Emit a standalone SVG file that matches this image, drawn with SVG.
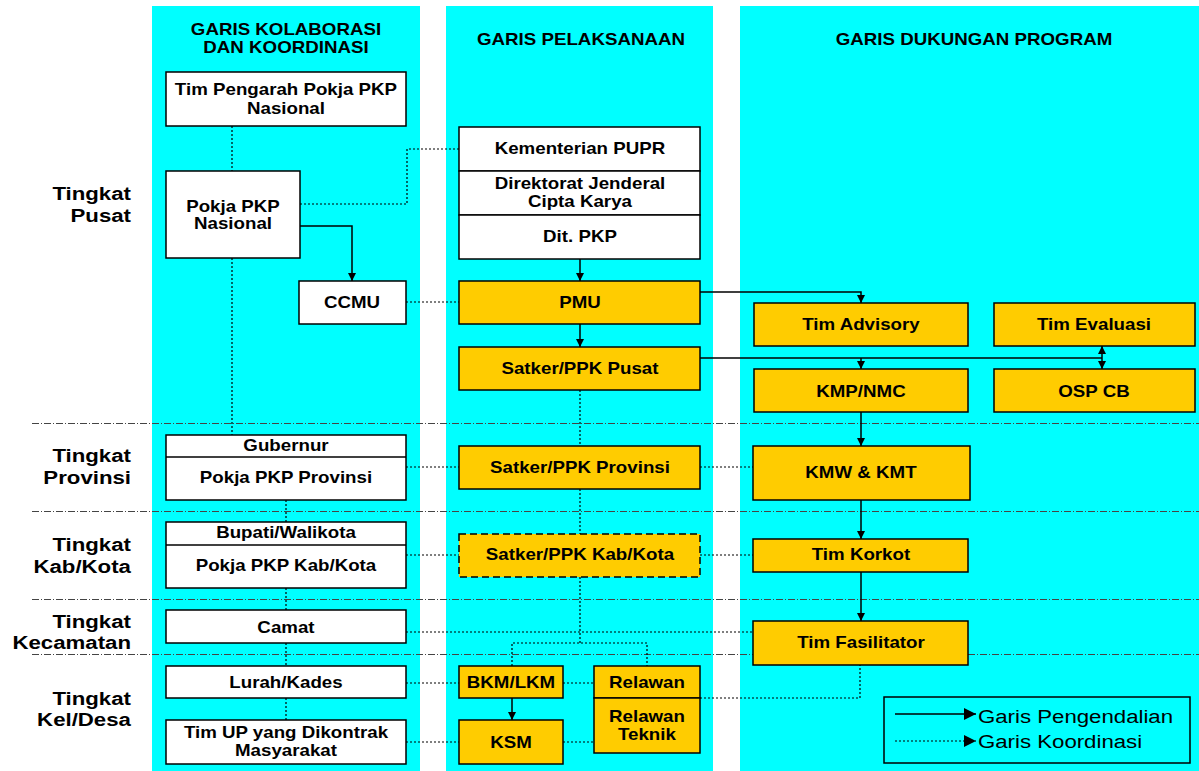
<svg xmlns="http://www.w3.org/2000/svg" width="1199" height="771" viewBox="0 0 1199 771">
<defs>
<style>
.c{fill:#00FFFF}
.w{fill:#fff;stroke:#000;stroke-width:1.5}
.g{fill:#FFCC00;stroke:#000;stroke-width:1.5}
.gd{fill:#FFCC00;stroke:#000;stroke-width:1.5;stroke-dasharray:7 4}
.t{font-family:"Liberation Sans",Arial,sans-serif;font-weight:bold;font-size:16px;text-anchor:middle;fill:#000;transform-box:fill-box;transform-origin:center;transform:scaleX(1.17)}
.l{font-size:19px;text-anchor:end;transform-origin:right center}
.lg{font-weight:normal;font-size:19px;text-anchor:start;transform-origin:left center}
.s{stroke:#000;stroke-width:1.5;fill:none}
.d{stroke:#000;stroke-width:1.2;stroke-dasharray:2 2;fill:none}
.sep{stroke:#444;stroke-width:1;stroke-dasharray:7 2 1 2;fill:none}
</style>
<marker id="a" viewBox="0 0 8 8" refX="8" refY="4" markerWidth="8" markerHeight="8" markerUnits="userSpaceOnUse" orient="auto-start-reverse"><path d="M0,0 L8,4 L0,8 z" fill="#000"/></marker>
<marker id="al" viewBox="0 0 12 12" refX="12" refY="6" markerWidth="12" markerHeight="12" markerUnits="userSpaceOnUse" orient="auto"><path d="M0,0 L12,6 L0,12 z" fill="#000"/></marker>
</defs>
<rect width="1199" height="771" fill="#fff"/>
<g id="columns">
<rect class="c" x="152" y="6" width="268" height="765"/>
<rect class="c" x="446" y="6" width="267" height="765"/>
<rect class="c" x="740" y="6" width="459" height="765"/>
<text class="t" x="286" y="35">GARIS KOLABORASI</text>
<text class="t" x="286" y="53">DAN KOORDINASI</text>
<text class="t" x="581" y="45">GARIS PELAKSANAAN</text>
<text class="t" x="974" y="45">GARIS DUKUNGAN PROGRAM</text>
</g>
<g id="separators">
<path class="sep" d="M32,423.5 H1199 M32,511.5 H1199 M32,599.5 H1199 M32,654.5 H1199"/>
</g>
<g id="levels">
<text class="t l" x="131" y="200">Tingkat</text>
<text class="t l" x="131" y="222">Pusat</text>
<text class="t l" x="131" y="462">Tingkat</text>
<text class="t l" x="131" y="484">Provinsi</text>
<text class="t l" x="131" y="551">Tingkat</text>
<text class="t l" x="131" y="573">Kab/Kota</text>
<text class="t l" x="131" y="628">Tingkat</text>
<text class="t l" x="131" y="649">Kecamatan</text>
<text class="t l" x="131" y="705">Tingkat</text>
<text class="t l" x="131" y="726">Kel/Desa</text>
</g>
<g id="connectors">
<path class="d" d="M232,126 V171 M232,258 V435 M286,500 V522 M286,588 V610 M286,643 V666 M286,698 V720"/>
<path class="d" d="M300,204 H407 V149 H459"/>
<path class="d" d="M406,302 H459"/>
<path class="d" d="M580,390 V446 M580,489 V534 M580,577 V643 M512,666 V643 H647 V666"/>
<path class="d" d="M406,467 H459 M700,467 H753 M406,555 H459 M700,555 H753 M406,632 H753"/>
<path class="d" d="M406,683 H459 M563,683 H594 M406,742 H459 M563,742 H594"/>
<path class="d" d="M700,698 H860 V665"/>
<path class="s" d="M300,226 H352 V281" marker-end="url(#a)"/>
<path class="s" d="M580,259 V281" marker-end="url(#a)"/>
<path class="s" d="M580,324 V347" marker-end="url(#a)"/>
<path class="s" d="M700,292 H861 V303" marker-end="url(#a)"/>
<path class="s" d="M700,358 H1102"/>
<path class="s" d="M861,358 V369" marker-end="url(#a)"/>
<path class="s" d="M1102,346 V369" marker-start="url(#a)" marker-end="url(#a)"/>
<path class="s" d="M861,412 V446" marker-end="url(#a)"/>
<path class="s" d="M861,500 V539" marker-end="url(#a)"/>
<path class="s" d="M861,572 V621" marker-end="url(#a)"/>
<path class="s" d="M512,698 V720" marker-end="url(#a)"/>
</g>
<g id="n-tim-pengarah"><rect class="w" x="166" y="72" width="240" height="54"/><text class="t" x="286" y="95">Tim Pengarah Pokja PKP</text><text class="t" x="286" y="114">Nasional</text></g>
<g id="n-pokja-nasional"><rect class="w" x="166" y="171" width="134" height="87"/><text class="t" x="233" y="212">Pokja PKP</text><text class="t" x="233" y="229">Nasional</text></g>
<g id="n-ccmu"><rect class="w" x="299" y="281" width="107" height="43"/><text class="t" x="352" y="308">CCMU</text></g>
<g id="n-gubernur"><rect class="w" x="166" y="435" width="240" height="65"/><line x1="166" y1="457" x2="406" y2="457" stroke="#000" stroke-width="1.5"/><text class="t" x="286" y="451">Gubernur</text><text class="t" x="286" y="483">Pokja PKP Provinsi</text></g>
<g id="n-bupati"><rect class="w" x="166" y="522" width="240" height="66"/><line x1="166" y1="545" x2="406" y2="545" stroke="#000" stroke-width="1.5"/><text class="t" x="286" y="538">Bupati/Walikota</text><text class="t" x="286" y="571">Pokja PKP Kab/Kota</text></g>
<g id="n-camat"><rect class="w" x="166" y="610" width="240" height="33"/><text class="t" x="286" y="633">Camat</text></g>
<g id="n-lurah"><rect class="w" x="166" y="666" width="240" height="32"/><text class="t" x="286" y="688">Lurah/Kades</text></g>
<g id="n-tim-up"><rect class="w" x="166" y="720" width="240" height="44"/><text class="t" x="286" y="738">Tim UP yang Dikontrak</text><text class="t" x="286" y="756">Masyarakat</text></g>
<g id="n-kementerian"><rect class="w" x="459" y="127" width="241" height="44"/><text class="t" x="580" y="154">Kementerian PUPR</text></g>
<g id="n-ditjen"><rect class="w" x="459" y="171" width="241" height="44"/><text class="t" x="580" y="189">Direktorat Jenderal</text><text class="t" x="580" y="207">Cipta Karya</text></g>
<g id="n-ditpkp"><rect class="w" x="459" y="215" width="241" height="44"/><text class="t" x="580" y="242">Dit. PKP</text></g>
<g id="n-pmu"><rect class="g" x="459" y="281" width="241" height="43"/><text class="t" x="580" y="308">PMU</text></g>
<g id="n-satker-pusat"><rect class="g" x="459" y="347" width="241" height="43"/><text class="t" x="580" y="374">Satker/PPK Pusat</text></g>
<g id="n-satker-prov"><rect class="g" x="459" y="446" width="241" height="43"/><text class="t" x="580" y="473">Satker/PPK Provinsi</text></g>
<g id="n-satker-kab"><rect class="gd" x="459" y="534" width="241" height="43"/><text class="t" x="580" y="560">Satker/PPK Kab/Kota</text></g>
<g id="n-bkm"><rect class="g" x="459" y="666" width="104" height="32"/><text class="t" x="511" y="688">BKM/LKM</text></g>
<g id="n-ksm"><rect class="g" x="459" y="720" width="104" height="44"/><text class="t" x="511" y="748">KSM</text></g>
<g id="n-relawan"><rect class="g" x="594" y="666" width="106" height="32"/><text class="t" x="647" y="688">Relawan</text></g>
<g id="n-relawan-teknik"><rect class="g" x="594" y="698" width="106" height="55"/><text class="t" x="647" y="722">Relawan</text><text class="t" x="647" y="740">Teknik</text></g>
<g id="n-tim-advisory"><rect class="g" x="754" y="303" width="214" height="43"/><text class="t" x="861" y="330">Tim Advisory</text></g>
<g id="n-tim-evaluasi"><rect class="g" x="994" y="303" width="201" height="43"/><text class="t" x="1094" y="330">Tim Evaluasi</text></g>
<g id="n-kmp"><rect class="g" x="754" y="369" width="214" height="43"/><text class="t" x="861" y="397">KMP/NMC</text></g>
<g id="n-osp"><rect class="g" x="994" y="369" width="201" height="43"/><text class="t" x="1094" y="397">OSP CB</text></g>
<g id="n-kmw"><rect class="g" x="753" y="446" width="217" height="54"/><text class="t" x="861" y="478">KMW &amp; KMT</text></g>
<g id="n-korkot"><rect class="g" x="753" y="539" width="215" height="33"/><text class="t" x="861" y="560">Tim Korkot</text></g>
<g id="n-fasilitator"><rect class="g" x="753" y="621" width="215" height="44"/><text class="t" x="861" y="648">Tim Fasilitator</text></g>
<g id="legend">
<rect x="884" y="697" width="306" height="66" fill="none" stroke="#000" stroke-width="1.5"/>
<path class="s" d="M895,714 H976" marker-end="url(#al)"/>
<path class="d" d="M895,741 H976" marker-end="url(#al)"/>
<text class="t lg" x="978" y="723">Garis Pengendalian</text>
<text class="t lg" x="978" y="748">Garis Koordinasi</text>
</g>
</svg>
